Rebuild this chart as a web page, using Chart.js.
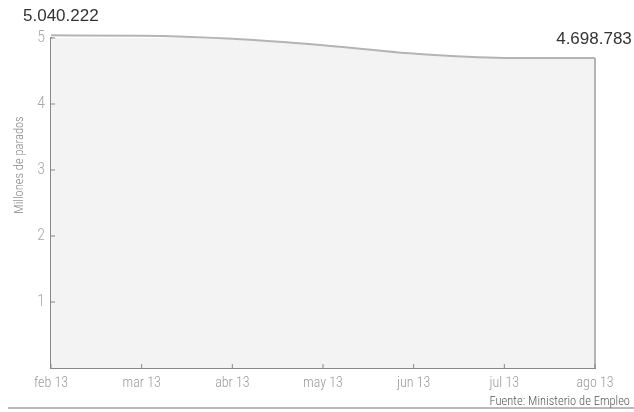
<!DOCTYPE html>
<html>
<head>
<meta charset="utf-8">
<script src="https://cdn.jsdelivr.net/npm/chart.js@4/dist/chart.umd.min.js"></script>
<style>
  html, body { margin: 0; padding: 0; background: #fff; }
  #wrap { width: 634px; height: 412px; }
</style>
</head>
<body>
<div id="wrap"><canvas id="paro"></canvas></div>
<script>
// datos
const meses = ['feb 13', 'mar 13', 'abr 13', 'may 13', 'jun 13', 'jul 13', 'ago 13'];
const parados = [5.040222, 5.035243, 4.989193, 4.890928, 4.763680, 4.698814, 4.698783];
const etiquetaInicio = '5.040.222';
const etiquetaFin = '4.698.783';
const tituloY = 'Millones de parados';
const fuente = 'Fuente: Ministerio de Empleo';

const fontFam = "'Roboto Condensed', 'Liberation Sans Narrow', sans-serif";
const fontNum = "'Liberation Sans', Arial, sans-serif";

// marcas, etiquetas y pie
const extras = {
  id: 'extras',
  afterDatasetsDraw(chart) {
    const { ctx, chartArea, scales } = chart;
    const pts = chart.getDatasetMeta(0).data;
    ctx.save();
    // borde derecho del area
    const last = pts[pts.length - 1];
    ctx.strokeStyle = '#b4b4b4';
    ctx.lineWidth = 2;
    ctx.beginPath();
    ctx.moveTo(last.x, last.y);
    ctx.lineTo(last.x, chartArea.bottom);
    ctx.stroke();
    // marcas interiores
    ctx.strokeStyle = '#888';
    ctx.lineWidth = 1;
    scales.y.ticks.forEach((t, i) => {
      const y = scales.y.getPixelForTick(i);
      if (t.value === 0) return;
      ctx.beginPath();
      ctx.moveTo(chartArea.left, y);
      ctx.lineTo(chartArea.left + 4, y);
      ctx.stroke();
    });
    meses.forEach((m, i) => {
      const x = scales.x.getPixelForTick(i);
      ctx.beginPath();
      ctx.moveTo(x, chartArea.bottom);
      ctx.lineTo(x, chartArea.bottom - 4);
      ctx.stroke();
    });
    // valores extremos
    ctx.fillStyle = '#333';
    ctx.font = '17px ' + fontNum;
    ctx.textBaseline = 'middle';
    ctx.textAlign = 'left';
    ctx.fillText(etiquetaInicio, pts[0].x - 28, pts[0].y - 19);
    ctx.textAlign = 'center';
    ctx.fillText(etiquetaFin, last.x - 1, last.y - 19);
    // titulo eje y
    ctx.fillStyle = '#888';
    ctx.font = '300 12.5px ' + fontFam;
    ctx.translate(20, chartArea.top + 127);
    ctx.rotate(-Math.PI / 2);
    ctx.fillText(tituloY, 0, 0);
    ctx.restore();
    // pie
    ctx.save();
    ctx.strokeStyle = '#bbb';
    ctx.lineWidth = 2;
    ctx.beginPath();
    ctx.moveTo(8, 408);
    ctx.lineTo(634, 408);
    ctx.stroke();
    ctx.fillStyle = '#555';
    ctx.font = '300 12.5px ' + fontFam;
    ctx.textAlign = 'right';
    ctx.textBaseline = 'middle';
    ctx.fillText(fuente, 630, 402);
    ctx.restore();
  }
};

const ctx = document.getElementById('paro').getContext('2d');
const chart = new Chart(ctx, {
  type: 'line',
  data: {
    labels: meses,
    datasets: [{
      data: parados,
      fill: 'origin',
      backgroundColor: '#f3f3f3',
      borderColor: '#b4b4b4',
      borderWidth: 2,
      tension: 0.4,
      cubicInterpolationMode: 'monotone',
      pointRadius: 0,
      clip: false
    }]
  },
  options: {
    responsive: true,
    maintainAspectRatio: false,
    animation: false,
    layout: { padding: { top: 38, right: 39, bottom: 0, left: 0 } },
    plugins: {
      legend: { display: false },
      tooltip: { enabled: false }
    },
    scales: {
      x: {
        offset: false,
        grid: { display: false, drawTicks: false },
        border: { color: '#888', width: 2 },
        ticks: { color: '#999', font: { family: fontFam, size: 14, weight: 300 }, padding: 7, maxRotation: 0 },
        afterFit(scale) { scale.height = 44; }
      },
      y: {
        min: 0,
        max: 5,
        grid: { display: false, drawTicks: false },
        border: { color: '#888', width: 2 },
        ticks: {
          stepSize: 1,
          color: '#aaa',
          font: { family: fontFam, size: 16, weight: 300 },
          padding: 6,
          callback: v => v === 0 ? '' : v
        },
        afterFit(scale) { scale.width = 51; }
      }
    }
  },
  plugins: [extras]
});
</script>
</body>
</html>
